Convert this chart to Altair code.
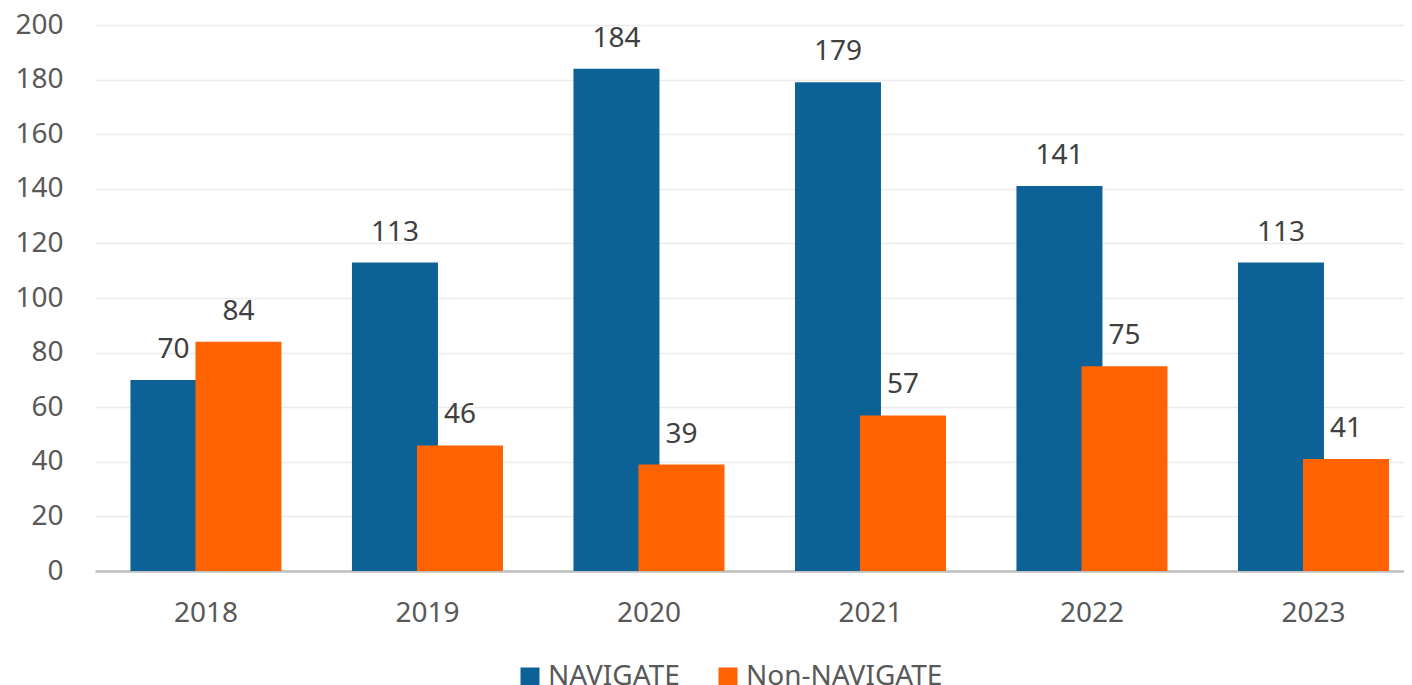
import altair as alt
import pandas as pd

years = ["2018", "2019", "2020", "2021", "2022", "2023"]
series = ["NAVIGATE", "Non-NAVIGATE"]
navigate = [70, 113, 184, 179, 141, 113]
non_navigate = [84, 46, 39, 57, 75, 41]
colors = ["#0C6197", "#FF6200"]
y_ticks = [0, 20, 40, 60, 80, 100, 120, 140, 160, 180, 200]

rows = []
for s, vals in zip(series, [navigate, non_navigate]):
    for yr, v in zip(years, vals):
        rows.append({"year": yr, "series": s, "value": v})
df = pd.DataFrame(rows)

FONT = "Noto Sans"
FS = 28

base = alt.Chart(df).encode(
    x=alt.X(
        "year:N",
        sort=years,
        scale=alt.Scale(paddingInner=0.413, paddingOuter=0.1613, align=0.643),
        axis=alt.Axis(
            title=None, labelAngle=0, labelFontSize=FS, labelColor="#595959",
            labelFont=FONT, labelPadding=28, domainColor="#BFBFBF", domainWidth=2.5,
            ticks=False, grid=False,
        ),
    ),
    xOffset=alt.XOffset("series:N", sort=series,
                        scale=alt.Scale(domain=series, paddingInner=0, paddingOuter=0)),
    y=alt.Y(
        "value:Q",
        scale=alt.Scale(domain=[0, 200], nice=False),
        axis=alt.Axis(
            title=None, values=y_ticks, labelFontSize=FS, labelColor="#595959",
            labelFont=FONT, labelPadding=32, ticks=False, domain=False,
            gridColor="#EBEBEB", gridWidth=1.5,
        ),
    ),
)

bars = base.mark_bar(width=86).encode(
    color=alt.Color(
        "series:N",
        sort=series,
        scale=alt.Scale(domain=series, range=colors),
        legend=alt.Legend(
            title=None, orient="none", legendX=421, legendY=638, direction="horizontal",
            symbolType="square", symbolSize=361, symbolStrokeWidth=0,
            labelFontSize=FS, labelColor="#595959", labelFont=FONT, labelLimit=500,
            columnPadding=34, labelOffset=4,
        ),
    )
)

labels = base.mark_text(baseline="alphabetic", dy=-22, fontSize=FS, font=FONT,
                        color="#404040").encode(text="value:Q")

chart = (bars + labels).properties(
    width=1309, height=546,
    autosize=alt.AutoSizeParams(type="none"),
    padding={"left": 87, "top": 17, "right": 0, "bottom": 114},
).configure_view(stroke=None)

chart.save("out.html", embed_options={"renderer": "svg", "actions": False})
